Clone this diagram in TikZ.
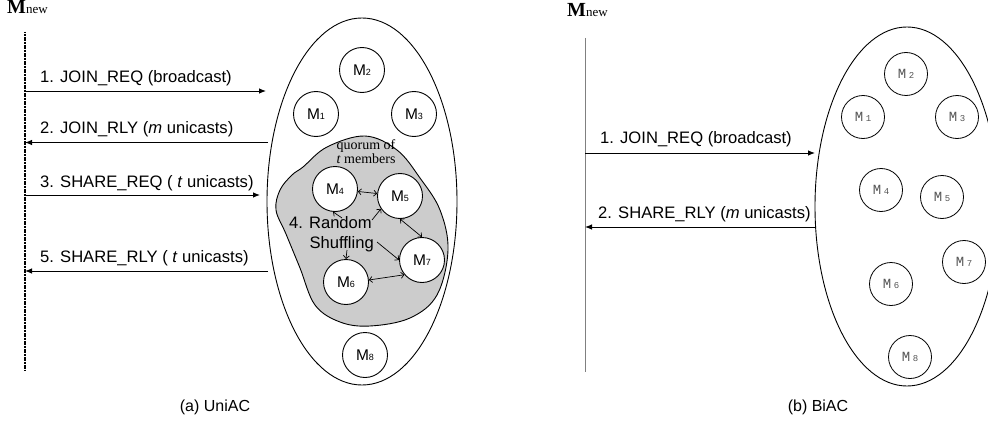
\documentclass[tikz,border=0pt]{standalone}
\usepackage{fontspec}
\setmainfont{Liberation Sans}
\newfontfamily\serifF{Liberation Serif}
\newfontfamily\monoF{Liberation Mono}
\usetikzlibrary{arrows.meta,shapes.geometric}
\definecolor{blobgray}{RGB}{204,204,204}
\definecolor{labgray}{RGB}{85,85,85}
\newcommand{\ML}[1]{M{\fontsize{9}{9}\selectfont #1}}
\newcommand{\MR}[1]{{\monoF\fontsize{14}{14}\selectfont M\hspace{2.5pt}{\fontsize{9}{9}\selectfont #1}}}
\newcommand{\Mnew}{{\serifF\fontsize{20}{20}\selectfont\bfseries M}{\serifF\fontsize{13}{13}\selectfont new}}
\begin{document}
\begin{tikzpicture}[x=1pt,y=-1pt,
  msg/.style={line width=0.9pt,-{Latex[length=7pt,width=5.5pt]}},
  lbl/.style={anchor=base west,inner sep=0pt,font=\fontsize{16.6}{19}\selectfont},
  lnode/.style={circle,draw,line width=0.9pt,fill=white,minimum size=45pt,inner sep=0pt,font=\fontsize{15.5}{15.5}\selectfont},
  rnode/.style={circle,draw,line width=0.8pt,fill=white,minimum size=43pt,inner sep=0pt,text=labgray},
  sarr/.style={line width=0.7pt,-{Straight Barb[length=3pt,width=6pt]}},
  darr/.style={line width=0.7pt,{Straight Barb[length=3pt,width=6pt]}-{Straight Barb[length=3pt,width=6pt]}},
  captext/.style={anchor=base,inner sep=0pt,font=\fontsize{16}{19}\selectfont},
  grp/.style={draw,ellipse,line width=0.9pt,fill=white,inner sep=0pt}
]
\useasboundingbox (0,0) rectangle (988,444);
\clip (0,0) rectangle (988,444);

%% ---------------- (a) UniAC ----------------
\node[anchor=base west,inner sep=0pt] (mnewA) at (7,14) {\Mnew};
\coordinate (lA1) at (25,32);
\coordinate (lA2) at (25,370);
\draw[line width=2pt,dash pattern=on 1.2pt off 0.4pt] (lA1) -- (lA2);

\node[grp,minimum width=190pt,minimum height=367pt] (ellA) at (362,201.5) {};

\fill[blobgray] plot[smooth cycle,tension=0.6] coordinates {(292,175) (303,167) (327,147) (365,136) (397,150) (420,178) (440,210) (448,250) (437,295) (410,318) (370,326) (340,322) (315,305) (300,268) (286,234) (276,210) (280,190)};
\draw[line width=0.9pt] plot[smooth cycle,tension=0.6] coordinates {(292,175) (303,167) (327,147) (365,136) (397,150) (420,178) (440,210) (448,250) (437,295) (410,318) (370,326) (340,322) (315,305) (300,268) (286,234) (276,210) (280,190)};

\node[lnode] (a2) at (362,70) {\ML{2}};
\node[lnode] (a1) at (316,114) {\ML{1}};
\node[lnode] (a3) at (414,114) {\ML{3}};
\node[lnode] (a4) at (335,189) {\ML{4}};
\node[lnode] (a5) at (400,196) {\ML{5}};
\node[lnode] (a6) at (346,282) {\ML{6}};
\node[lnode] (a7) at (422,260) {\ML{7}};
\node[lnode] (a8) at (365,355) {\ML{8}};

\node[anchor=base,inner sep=0pt,font=\serifF\fontsize{14}{14}\selectfont] (q1) at (366,149) {quorum of};
\node[anchor=base,inner sep=0pt,font=\serifF\fontsize{14}{14}\selectfont] (q2) at (366,163) {\textit{t} members};

\node[anchor=base east,inner sep=0pt,font=\fontsize{16.6}{19}\selectfont] (sh1) at (372,228) {4. Random};
\node[anchor=base east,inner sep=0pt,font=\fontsize{16.6}{19}\selectfont] (sh2) at (374,248) {Shuffling};

\coordinate (s1) at (342,218);
\coordinate (s2) at (372,220);
\coordinate (s3) at (347,250);
\coordinate (s4) at (377,242);
\draw[darr] (a4) -- (a5);
\draw[sarr] (s1) -- (a4.265);
\draw[sarr] (s2) -- (a5.214);
\draw[sarr] (s3) -- (a6.north);
\draw[sarr] (s4) -- (a7.180);
\draw[darr] (a5.south) -- (a7.north);
\draw[darr] (a6.5) -- (a7.220);

\coordinate (m1s) at (25,91);    \coordinate (m1e) at (266,91);
\coordinate (m2s) at (268,142.5); \coordinate (m2e) at (25,142.5);
\coordinate (m3s) at (25,195);   \coordinate (m3e) at (260,195);
\coordinate (m5s) at (268,271);  \coordinate (m5e) at (25,271);
\draw[msg] (m1s) -- (m1e);
\draw[msg] (m2s) -- (m2e);
\draw[msg] (m3s) -- (m3e);
\draw[msg] (m5s) -- (m5e);
\node[lbl] (t1) at (40,83) {1. JOIN\_REQ (broadcast)};
\node[lbl] (t2) at (40,133) {2. JOIN\_RLY (\textit{m} unicasts)};
\node[lbl] (t3) at (40,187) {3. SHARE\_REQ ( \textit{t} unicasts)};
\node[lbl] (t5) at (40,262) {5. SHARE\_RLY ( \textit{t} unicasts)};

\node[captext] (capA) at (215,411) {(a) UniAC};

%% ---------------- (b) BiAC ----------------
\node[anchor=base west,inner sep=0pt] (mnewB) at (567,17) {\Mnew};
\coordinate (lB1) at (585,38);
\coordinate (lB2) at (585,372);
\draw[line width=0.9pt,gray] (lB1) -- (lB2);

\node[grp,minimum width=184pt,minimum height=359pt] (ellB) at (907,206.5) {};

\node[rnode] (b2) at (906,74) {\MR{2}};
\node[rnode] (b1) at (863,117) {\MR{1}};
\node[rnode] (b3) at (957,117) {\MR{3}};
\node[rnode] (b4) at (881,190) {\MR{4}};
\node[rnode] (b5) at (942,197) {\MR{5}};
\node[rnode] (b6) at (891,284) {\MR{6}};
\node[rnode] (b7) at (964,262) {\MR{7}};
\node[rnode] (b8) at (910,357) {\MR{8}};

\coordinate (n1s) at (585,153);  \coordinate (n1e) at (815,153);
\coordinate (n2s) at (816,227);  \coordinate (n2e) at (585,227);
\draw[msg] (n1s) -- (n1e);
\draw[msg] (n2s) -- (n2e);
\node[lbl] (u1) at (600,143) {1. JOIN\_REQ (broadcast)};
\node[lbl] (u2) at (598,218) {2. SHARE\_RLY (\textit{m} unicasts)};

\node[captext] (capB) at (818,411) {(b) BiAC};
\end{tikzpicture}
\end{document}
